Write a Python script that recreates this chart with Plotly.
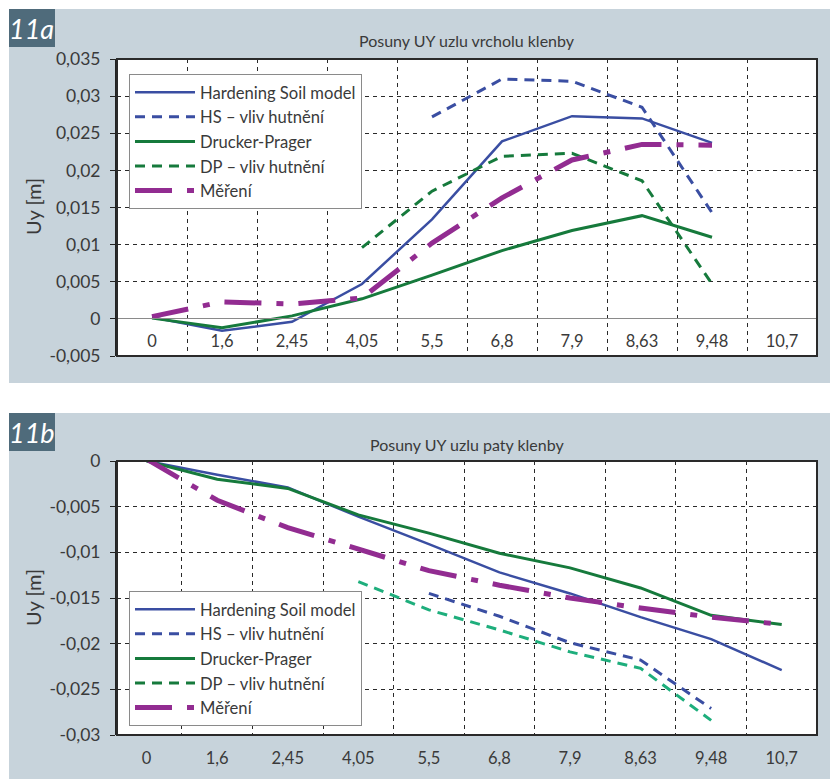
import plotly.graph_objects as go

# ---------------- data ----------------
categories = ["0", "1,6", "2,45", "4,05", "5,5", "6,8", "7,9", "8,63", "9,48", "10,7"]

series_names = ["Hardening Soil model", "HS – vliv hutnění", "Drucker-Prager",
                "DP – vliv hutnění", "Měření"]

# 11a – Posuny UY uzlu vrcholu klenby
a_hs = [0.0002, -0.0016, -0.0004, 0.0047, 0.0134, 0.0239, 0.0273, 0.0270, 0.0237, None]
a_hs_c = [None, None, None, None, 0.0272, 0.0323, 0.0320, 0.0285, 0.0143, None]
a_dp = [0.0001, -0.0012, 0.0004, 0.0027, 0.0059, 0.0092, 0.0119, 0.0139, 0.0110, None]
a_dp_c = [None, None, None, 0.0096, 0.0172, 0.0219, 0.0223, 0.0186, 0.0047, None]
a_meas = [0.0003, 0.0023, 0.0020, 0.0028, 0.0102, 0.0163, 0.0214, 0.0235, 0.0234, None]

# 11b – Posuny UY uzlu paty klenby
b_hs = [0.0, -0.0015, -0.0029, -0.0061, -0.0091, -0.0122, -0.0145, -0.0171, -0.0195, -0.0229]
b_hs_c = [None, None, None, None, -0.0145, -0.0170, -0.0199, -0.0218, -0.0271, None]
b_dp = [0.0, -0.0020, -0.0030, -0.0059, -0.0079, -0.0101, -0.0117, -0.0139, -0.0169, -0.0179]
b_dp_c = [None, None, None, -0.0132, -0.0163, -0.0185, -0.0209, -0.0227, -0.0284, None]
b_meas = [0.0002, -0.0043, -0.0073, -0.0097, -0.0120, -0.0136, -0.0150, -0.0161, -0.0171, -0.0179]

a_ticks = [-0.005, 0, 0.005, 0.01, 0.015, 0.02, 0.025, 0.03, 0.035]
a_ticktext = ["-0,005", "0", "0,005", "0,01", "0,015", "0,02", "0,025", "0,03", "0,035"]
b_ticks = [-0.03, -0.025, -0.02, -0.015, -0.01, -0.005, 0]
b_ticktext = ["-0,03", "-0,025", "-0,02", "-0,015", "-0,01", "-0,005", "0"]

titles = ["Posuny UY uzlu vrcholu klenby", "Posuny UY uzlu paty klenby"]
panel_labels = ["11a", "11b"]

# ---------------- style ----------------
W, H = 834, 779
FONT = "Lato, sans-serif"
TXT = "#3a3a3a"
BG = "#c7d3db"
LABELBG = "#4f6b7b"
BLUE = "#3a4ea2"
GREEN = "#167a3c"
TEAL = "#1eae7c"
PURPLE = "#922c91"

def px_x(p):
    return p / W

def px_y(p):
    return 1 - p / H

styles = [
    dict(color=BLUE, width=2.5, dash="solid"),
    dict(color=BLUE, width=3, dash="10px,7px"),
    dict(color=GREEN, width=3, dash="solid"),
    dict(color=GREEN, width=3, dash="10px,7px"),
    dict(color=PURPLE, width=5, dash="37px,15px,7px,15px"),
]
order = {n: k for k, n in enumerate(series_names)}

fig = go.Figure()

a_data = [a_hs, a_hs_c, a_dp, a_dp_c, a_meas]
for name, ys, st in zip(series_names, a_data, styles):
    fig.add_trace(go.Scatter(x=categories, y=ys, name=name, mode="lines",
                             line=st, xaxis="x", yaxis="y", legend="legend",
                             legendrank=order[name], hoverinfo="skip"))

b_data = [b_hs, b_hs_c, b_dp, b_dp_c, b_meas]
for i, (name, ys, st) in enumerate(zip(series_names, b_data, styles)):
    st2 = dict(st)
    show = True
    if i == 3:
        st2["color"] = TEAL
        show = False
    fig.add_trace(go.Scatter(x=categories, y=ys, name=name, mode="lines",
                             line=st2, xaxis="x2", yaxis="y2", legend="legend2",
                             showlegend=show, legendrank=order[name], hoverinfo="skip"))
    if i == 3:
        # key entry drawn in the darker green, as in the original legend
        fig.add_trace(go.Scatter(x=[None], y=[None], name=name, mode="lines",
                                 line=st, xaxis="x2", yaxis="y2", legend="legend2",
                                 legendrank=order[name], hoverinfo="skip"))

x_dom = [px_x(117), px_x(817)]
a_dom = [px_y(356), px_y(59)]
b_dom = [px_y(735), px_y(461)]

grid = dict(showgrid=True, gridcolor="#2a2a2a", gridwidth=1, griddash="4px,4px")
ytickfont = dict(family=FONT, size=17.5, color=TXT)
xtickfont = dict(family=FONT, size=16.5, color=TXT)
legfont = dict(family=FONT, size=16.6, color=TXT)

fig.update_layout(
    template="none",
    width=W, height=H, margin=dict(l=0, r=0, t=0, b=0, pad=0, autoexpand=False),
    paper_bgcolor="white", plot_bgcolor="white",
    font=dict(family=FONT, color=TXT),
    xaxis=dict(domain=x_dom, type="category", categoryorder="array",
               categoryarray=categories, range=[-0.5, 9.5], anchor="free",
               position=px_y(318), tickson="boundaries", ticks="",
               showline=True, linecolor="#8a8a8a", linewidth=1.2, automargin=False,
               tickfont=xtickfont, ticklabelstandoff=8, zeroline=False, **grid),
    yaxis=dict(domain=a_dom, range=[-0.005, 0.035], tickvals=a_ticks,
               ticktext=a_ticktext, ticks="outside", ticklen=5, tickcolor="#222",
               showline=True, linecolor="#222", linewidth=2, zeroline=False,
               automargin=False, tickfont=ytickfont, ticklabelstandoff=6,
               anchor="x", **grid),
    xaxis2=dict(domain=x_dom, type="category", categoryorder="array",
                categoryarray=categories, range=[-0.42, 9.5], anchor="y2",
                tickson="boundaries", ticks="", showline=False, automargin=False,
                tickfont=xtickfont, ticklabelstandoff=11, zeroline=False, **grid),
    yaxis2=dict(domain=b_dom, range=[-0.03, 0], tickvals=b_ticks,
                ticktext=b_ticktext, ticks="outside", ticklen=5, tickcolor="#222",
                showline=True, linecolor="#222", linewidth=2, zeroline=False,
                automargin=False, tickfont=ytickfont, ticklabelstandoff=6,
                anchor="x2", **grid),
    legend=dict(x=px_x(129), y=px_y(74), xanchor="left", yanchor="top",
                bgcolor="white", bordercolor="#8a8a8a", borderwidth=1,
                font=legfont, itemwidth=60, traceorder="normal"),
    legend2=dict(x=px_x(129), y=px_y(591), xanchor="left", yanchor="top",
                 bgcolor="white", bordercolor="#8a8a8a", borderwidth=1,
                 font=legfont, itemwidth=60, traceorder="normal"),
    showlegend=True,
)

shapes = []
# panel backgrounds
shapes.append(dict(type="rect", xref="paper", yref="paper", x0=px_x(9), x1=px_x(830),
                   y0=px_y(383), y1=px_y(9), fillcolor=BG, line=dict(width=0), layer="below"))
shapes.append(dict(type="rect", xref="paper", yref="paper", x0=px_x(9), x1=px_x(830),
                   y0=px_y(779), y1=px_y(413), fillcolor=BG, line=dict(width=0), layer="below"))
# panel label boxes
shapes.append(dict(type="rect", xref="paper", yref="paper", x0=px_x(9), x1=px_x(55),
                   y0=px_y(47), y1=px_y(9), fillcolor=LABELBG, line=dict(width=0), layer="below"))
shapes.append(dict(type="rect", xref="paper", yref="paper", x0=px_x(9), x1=px_x(55),
                   y0=px_y(451), y1=px_y(413), fillcolor=LABELBG, line=dict(width=0), layer="below"))
# white plot areas and frames
for xr, yr in (("x", "y"), ("x2", "y2")):
    shapes.append(dict(type="rect", xref=xr + " domain", yref=yr + " domain",
                       x0=0, x1=1, y0=0, y1=1, fillcolor="white",
                       line=dict(width=0), layer="below"))
    shapes.append(dict(type="rect", xref=xr + " domain", yref=yr + " domain",
                       x0=0, x1=1, y0=0, y1=1, line=dict(color="#2a2a2a", width=2),
                       layer="above"))

annotations = []
for lab, py in zip(panel_labels, (28, 432)):
    annotations.append(dict(text="<i>" + lab + "</i>", xref="paper", yref="paper",
                            x=px_x(32), y=px_y(py), xanchor="center", yanchor="middle",
                            showarrow=False, font=dict(family=FONT, size=27, color="white")))
for t, py in zip(titles, (41, 444)):
    annotations.append(dict(text=t, xref="paper", yref="paper", x=px_x(467), y=px_y(py),
                            xanchor="center", yanchor="middle", showarrow=False,
                            font=dict(family=FONT, size=16, color=TXT)))
for py in (207, 598):
    annotations.append(dict(text="Uy [m]", xref="paper", yref="paper", x=px_x(33),
                            y=px_y(py), xanchor="center", yanchor="middle",
                            showarrow=False, textangle=-90,
                            font=dict(family=FONT, size=20, color=TXT)))

fig.update_layout(shapes=shapes, annotations=annotations)
fig.write_html("out.html")
